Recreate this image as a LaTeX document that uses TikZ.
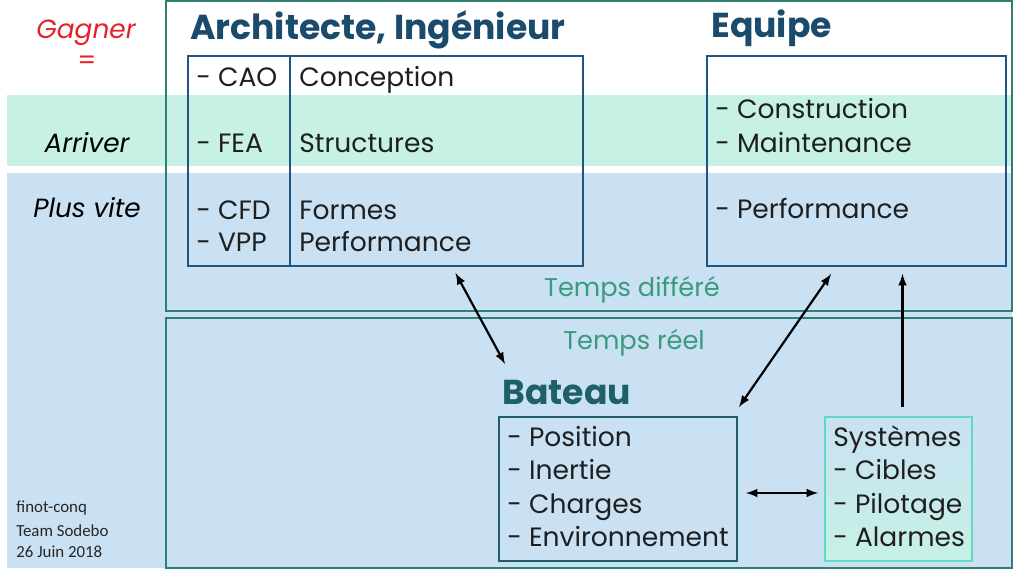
\documentclass[tikz,border=0pt]{standalone}
\usepackage{fontspec}
\setmainfont{Poppins}
\newfontfamily\notefont{Carlito}
\usetikzlibrary{calc,positioning}
\definecolor{frameteal}{HTML}{2F8070}
\definecolor{navy}{HTML}{1B4B6C}
\definecolor{navyline}{HTML}{1F5580}
\definecolor{boatteal}{HTML}{1E5F69}
\definecolor{tealtext}{HTML}{3A9A7D}
\definecolor{gagnerred}{HTML}{E5222B}
\definecolor{bandgreen}{HTML}{C6F1E4}
\definecolor{bandblue}{HTML}{C9E1F3}
\definecolor{sysgreen}{HTML}{62DAC2}
\begin{document}
\begin{tikzpicture}[x=0.02cm,y=-0.02cm,
    item/.style={anchor=base west,inner sep=0pt,font=\fontsize{15.1}{18}\selectfont,text=black!88},
    heading/.style={anchor=base west,inner sep=0pt,font=\fontsize{19.7}{22}\selectfont\bfseries},
    side/.style={anchor=base,inner sep=0pt,font=\fontsize{15}{17}\selectfont\itshape},
    timing/.style={anchor=base,inner sep=0pt,font=\fontsize{14.6}{17}\selectfont,text=tealtext},
    note/.style={anchor=base west,inner sep=0pt,font=\notefont\fontsize{9.6}{11}\selectfont,text=black!85},
    box/.style={draw,line width=1.1pt,inner sep=0pt},
    frame/.style={draw=frameteal,line width=1pt,inner sep=0pt,minimum width=16.92cm},
    link/.style={line width=1.25pt,>=latex}]
    \useasboundingbox[fill=white] (0,0) rectangle (1024,573);
    \fill[bandgreen] (7,95) rectangle (1012,166);
    \fill[bandblue] (7,173) rectangle (1012,568);
    \node[frame,minimum height=6.2cm] (differe) at (589,156) {};
    \node[frame,minimum height=5cm] (reel) at (589,443) {};
    \node[box,draw=navyline,minimum width=7.9cm,minimum height=4.2cm] (arch) at (385.5,161) {};
    \node[box,draw=navyline,minimum width=5.98cm,minimum height=4.2cm] (equipe) at (856.5,161) {};
    \node[box,draw=boatteal,minimum width=4.76cm,minimum height=2.88cm] (bateau) at (618,489) {};
    \node[box,draw=sysgreen,top color=bandblue,middle color=bandblue,bottom color=bandgreen,
        minimum width=2.94cm,minimum height=2.88cm] (sys) at (898.5,489) {};
    \draw[navyline,line width=1.1pt] ($(arch.north west)+(103,0)$) -- ($(arch.south west)+(103,0)$);

    \node[side,text=gagnerred] (gagner) at (86,39) {Gagner};
    \node[text=gagnerred,font=\fontsize{15}{17}\selectfont] (egal) at (87,63) {=};
    \node[side] (arriver) at (87,153) {Arriver};
    \node[side] (vite) at (87,218) {Plus vite};

    \node[heading,text=navy] (archtitle) at (190,40) {Architecte, Ingénieur};
    \node[heading,text=navy] (equipetitle) at (711,38) {Equipe};
    \node[heading,text=boatteal] (bateautitle) at (502,405) {Bateau};

    \node[item] (cao) at (196,87) {- CAO};
    \node[item] (conception) at (299,87) {Conception};
    \node[item] (fea) at (196,153) {- FEA};
    \node[item] (structures) at (299,153) {Structures};
    \node[item] (cfd) at (196,220) {- CFD};
    \node[item] (formes) at (299,220) {Formes};
    \node[item] (vpp) at (196,252) {- VPP};
    \node[item] (perfarch) at (299,252) {Performance};

    \node[item] (construction) at (715,119) {- Construction};
    \node[item] (maintenance) at (715,153) {- Maintenance};
    \node[item] (perfequipe) at (715,219) {- Performance};

    \node[item] (position) at (507,447) {- Position};
    \node[item] (inertie) at (507,480) {- Inertie};
    \node[item] (charges) at (507,514) {- Charges};
    \node[item] (environnement) at (507,547) {- Environnement};

    \node[item] (systemes) at (833,447) {Systèmes};
    \node[item] (cibles) at (833,480) {- Cibles};
    \node[item] (pilotage) at (833,514) {- Pilotage};
    \node[item] (alarmes) at (833,547) {- Alarmes};

    \node[timing] (tdiffere) at (632,297) {Temps différé};
    \node[timing] (treel) at (634,350) {Temps réel};

    \node[note] (auteur) at (16,513) {finot-conq};
    \node[note] (equipage) at (16,537) {Team Sodebo};
    \node[note] (date) at (16,558) {26 Juin 2018};

    \draw[link,<->] ($(arch.south)+(70,6)$) -- ($(bateau.north west)+(7,-52)$);
    \draw[link,<->] ($(bateau.north east)+(1,-9)$) -- ($(equipe.south west)+(125,7)$);
    \draw[link,->] ($(sys.north)+(4,-9)$) -- ($(sys.north |- equipe.south)+(4,7)$);
    \draw[link,<->] ($(bateau.east)+(8,4)$) -- ($(sys.west)+(-6,4)$);
\end{tikzpicture}
\end{document}
